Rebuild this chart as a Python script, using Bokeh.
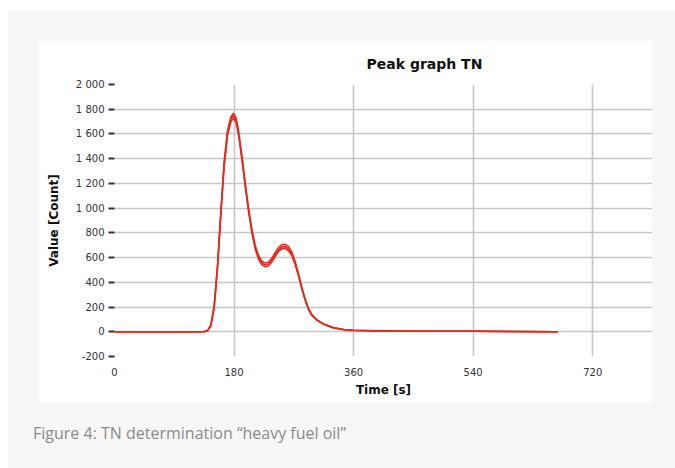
from bokeh.plotting import figure
from bokeh.models import FixedTicker, Div, Range1d
from bokeh.layouts import column
from bokeh.embed import file_html
from bokeh.resources import INLINE

# ---- data ----
time_s = [0, 60, 120, 135, 140, 145, 150, 155, 160, 165, 170, 175, 179, 183, 187,
          192, 197, 202, 207, 212, 217, 222, 227, 232, 237, 242, 247, 252, 257,
          262, 267, 272, 277, 282, 287, 292, 297, 305, 315, 330, 345, 360, 390,
          420, 480, 540, 600, 667]

run_1 = [0, 0, 0, 2, 8, 50, 200, 520, 950, 1350, 1605, 1715, 1750, 1712, 1600,
         1400, 1180, 980, 810, 680, 600, 557, 541, 549, 580, 625, 665, 687, 690,
         670, 630, 555, 460, 352, 262, 186, 136, 95, 62, 32, 18, 12, 8,
         6, 5, 4, 3, 1]

run_2 = [0, 0, 0, 2, 9, 55, 210, 535, 965, 1370, 1625, 1735, 1768, 1730, 1618,
         1415, 1195, 995, 825, 695, 615, 572, 556, 564, 596, 642, 683, 705, 708,
         688, 645, 568, 470, 360, 268, 190, 139, 97, 63, 33, 19, 12, 8,
         6, 5, 5, 3, 1]

run_3 = [0, 0, 0, 1, 7, 45, 190, 505, 935, 1330, 1585, 1695, 1728, 1692, 1582,
         1385, 1165, 965, 795, 665, 585, 542, 526, 534, 565, 610, 650, 672, 675,
         655, 617, 543, 450, 345, 256, 182, 133, 93, 60, 31, 17, 11, 7,
         6, 5, 4, 2, 1]

x_ticks = [0, 180, 360, 540, 720]
y_ticks = [-200, 0, 200, 400, 600, 800, 1000, 1200, 1400, 1600, 1800, 2000]
y_tick_labels = ["-200", "0", "200", "400", "600", "800", "1 000", "1 200",
                 "1 400", "1 600", "1 800", "2 000"]
title_text = "Peak graph TN"
caption_text = "Figure 4: TN determination \u201cheavy fuel oil\u201d"

line_color = "#e8281e"

p = figure(width=614, height=362, output_backend="svg", toolbar_location=None,
           x_range=Range1d(0, 810), y_range=Range1d(-200, 2000),
           min_border_left=76, min_border_right=0, min_border_top=43,
           min_border_bottom=46, background_fill_color="white",
           border_fill_color="white", outline_line_color=None)

p.title.text = title_text
p.title.text_font = "DejaVu Sans"
p.title.text_font_size = "14px"
p.title.text_font_style = "bold"
p.title.text_color = "#111111"
p.title.align = "left"
p.title.offset = 252
p.title.standoff = 26

for run in (run_2, run_3, run_1):
    p.line(time_s, run, line_color=line_color, line_width=1.5)

# axes
p.xaxis.ticker = FixedTicker(ticks=x_ticks)
p.yaxis.ticker = FixedTicker(ticks=y_ticks)
p.yaxis.major_label_overrides = {t: l for t, l in zip(y_ticks, y_tick_labels)}

for ax in (p.xaxis[0], p.yaxis[0]):
    ax.axis_line_color = None
    ax.minor_tick_line_color = None
    ax.major_label_text_font = "DejaVu Sans"
    ax.major_label_text_font_size = "10px"
    ax.major_label_text_color = "#333333"
    ax.axis_label_text_font = "DejaVu Sans"
    ax.axis_label_text_font_size = "12px"
    ax.axis_label_text_font_style = "bold"
    ax.axis_label_text_color = "#111111"

p.xaxis.axis_label = "Time [s]"
p.xaxis.major_tick_line_color = None
p.xaxis.major_tick_out = 0
p.xaxis.major_tick_in = 0
p.xaxis.major_label_standoff = 11
p.xaxis.axis_label_standoff = 4

p.yaxis.axis_label = "Value [Count]"
p.yaxis.major_tick_line_color = "#333333"
p.yaxis.major_tick_line_width = 2
p.yaxis.major_tick_out = 6
p.yaxis.major_tick_in = 0
p.yaxis.major_label_standoff = 4
p.yaxis.axis_label_standoff = 12

p.xgrid.grid_line_color = "#c6c6c6"
p.ygrid.grid_line_color = "#c6c6c6"
p.xgrid.grid_line_width = 1.6
p.ygrid.grid_line_width = 1.6

caption = Div(text=caption_text, width=614, height=40,
              styles={"font-family": "Open Sans", "font-size": "16px",
                      "color": "#8a8a8a", "padding-top": "15px",
                      "margin-left": "-5px"})

layout = column(p, caption, width=667, height=458,
                styles={"background-color": "#f7f7f7",
                        "padding": "30px 0 0 30px",
                        "margin-top": "10px", "margin-left": "8px"})

open("out.html", "w").write(file_html(layout, INLINE))
